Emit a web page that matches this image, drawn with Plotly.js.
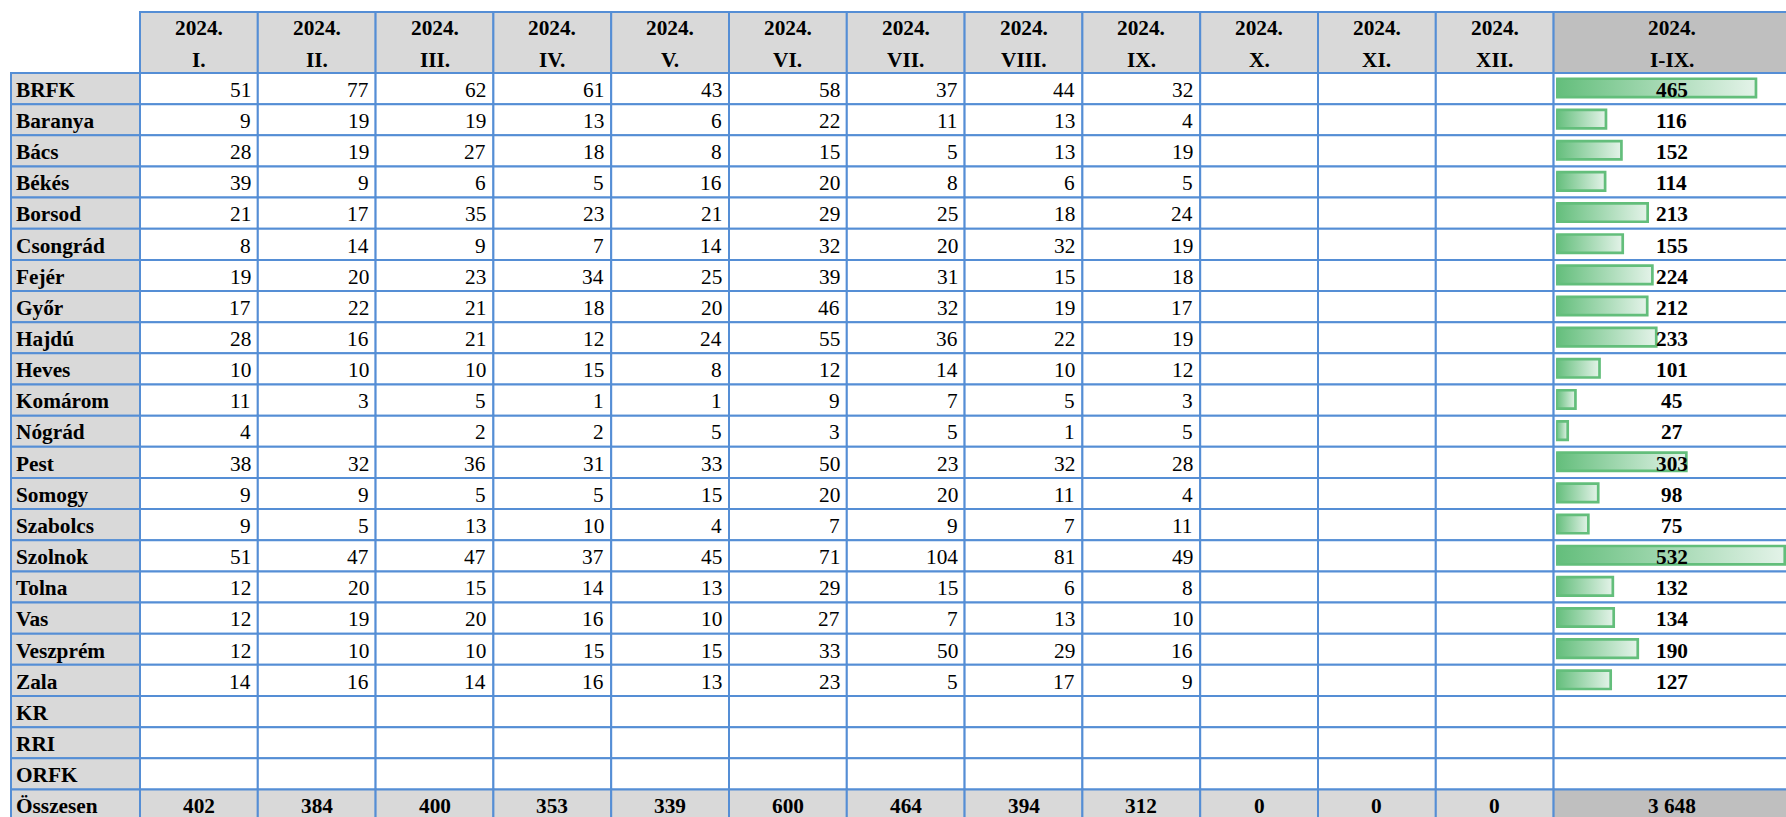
<!DOCTYPE html>
<html><head><meta charset="utf-8">
<script src="https://cdn.plot.ly/plotly-3.0.1.min.js"></script>
<style>html,body{margin:0;padding:0;background:#fff;overflow:hidden}</style>
</head><body><div id="chart" style="width:1786px;height:817px"></div>
<script>
// ---- data ----
const yearLabel = '2024.';
const monthLabels = ['I.','II.','III.','IV.','V.','VI.','VII.','VIII.','IX.','X.','XI.','XII.'];
const totalLabel = 'I-IX.';
const regions = ['BRFK','Baranya','Bács','Békés','Borsod','Csongrád','Fejér','Győr','Hajdú','Heves','Komárom','Nógrád','Pest','Somogy','Szabolcs','Szolnok','Tolna','Vas','Veszprém','Zala','KR','RRI','ORFK'];
const sumLabel = 'Összesen';
const monthI    = [51, 9,28,39,21, 8,19,17,28,10,11, 4,38, 9, 9, 51,12,12,12,14,null,null,null];
const monthII   = [77,19,19, 9,17,14,20,22,16,10, 3,null,32, 9, 5, 47,20,19,10,16,null,null,null];
const monthIII  = [62,19,27, 6,35, 9,23,21,21,10, 5, 2,36, 5,13, 47,15,20,10,14,null,null,null];
const monthIV   = [61,13,18, 5,23, 7,34,18,12,15, 1, 2,31, 5,10, 37,14,16,15,16,null,null,null];
const monthV    = [43, 6, 8,16,21,14,25,20,24, 8, 1, 5,33,15, 4, 45,13,10,15,13,null,null,null];
const monthVI   = [58,22,15,20,29,32,39,46,55,12, 9, 3,50,20, 7, 71,29,27,33,23,null,null,null];
const monthVII  = [37,11, 5, 8,25,20,31,32,36,14, 7, 5,23,20, 9,104,15, 7,50, 5,null,null,null];
const monthVIII = [44,13,13, 6,18,32,15,19,22,10, 5, 1,32,11, 7, 81, 6,13,29,17,null,null,null];
const monthIX   = [32, 4,19, 5,24,19,18,17,19,12, 3, 5,28, 4,11, 49, 8,10,16, 9,null,null,null];
const monthX    = [null,null,null,null,null,null,null,null,null,null,null,null,null,null,null,null,null,null,null,null,null,null,null];
const monthXI   = [null,null,null,null,null,null,null,null,null,null,null,null,null,null,null,null,null,null,null,null,null,null,null];
const monthXII  = [null,null,null,null,null,null,null,null,null,null,null,null,null,null,null,null,null,null,null,null,null,null,null];
const regionTotals = [465,116,152,114,213,155,224,212,233,101,45,27,303,98,75,532,132,134,190,127,null,null,null];
const monthTotals = [402,384,400,353,339,600,464,394,312,0,0,0];
const grandTotal = 3648;

// ---- style / geometry ----
const months = [monthI,monthII,monthIII,monthIV,monthV,monthVI,monthVII,monthVIII,monthIX,monthX,monthXI,monthXII];
const BLUE = '#558ED5', GRAY = '#D9D9D9', DGRAY = '#BFBFBF', GREEN = '#63BE7B', BARLIGHT = '#E4F3E9';
const FONT = 'Liberation Serif', FS = 21.3;
const W = 1786, H = 817;
const padL = 11, padT = 12, headH = 61, rowH = 31.15;
const labelW = 129, monthW = 117.8, totalW = 236;
const nBody = regions.length + 1;              // incl. Összesen
const bodyTop = padT + headH;

// column edges (pixel units on the grid axes)
const colLeft = [padL];
const colWidths = [labelW].concat(Array(12).fill(monthW)).concat([totalW]);
colWidths.forEach((w, i) => colLeft.push(colLeft[i] + w));
const rowTop = i => bodyTop + i * rowH;

const fmt = v => (v === null || v === undefined) ? '' : String(v).replace(/\B(?=(\d{3})+(?!\d))/g, ' ');

const shapes = [];
const annotations = [];
const cellRect = (x0, x1, y0, y1, fill) => shapes.push({
  type: 'rect', xref: 'x', yref: 'y', x0, x1, y0, y1, layer: 'below',
  fillcolor: fill, line: {color: BLUE, width: 2}
});
const txt = (x, y, text, anchor, bold, xshift) => annotations.push({
  xref: 'x', yref: 'y', x, y, text, showarrow: false, xanchor: anchor, yanchor: 'middle',
  xshift: xshift || 0, borderpad: 0,
  font: {family: FONT, size: FS, color: '#000', weight: bold ? 700 : 400}
});

// header
const headerLabels = monthLabels.concat([totalLabel]);
headerLabels.forEach((lab, j) => {
  const c = j + 1;
  cellRect(colLeft[c], colLeft[c + 1], padT, bodyTop, c === 13 ? DGRAY : GRAY);
  const cx = (colLeft[c] + colLeft[c + 1]) / 2;
  txt(cx, padT + 16, yearLabel, 'center', true);
  txt(cx, padT + 48, lab, 'center', true);
});

// body
const labels = regions.concat([sumLabel]);
for (let i = 0; i < nBody; i++) {
  const y0 = rowTop(i), y1 = rowTop(i + 1), yc = y0 + 16.8;
  const isSum = i === nBody - 1;
  cellRect(colLeft[0], colLeft[1], y0, y1, GRAY);
  txt(colLeft[0], yc, labels[i], 'left', true, 4);
  months.forEach((col, j) => {
    const c = j + 1;
    cellRect(colLeft[c], colLeft[c + 1], y0, y1, isSum ? GRAY : 'white');
    if (isSum) txt((colLeft[c] + colLeft[c + 1]) / 2, yc, fmt(monthTotals[j]), 'center', true);
    else if (col[i] !== null) txt(colLeft[c + 1], yc, fmt(col[i]), 'right', false, -6);
  });
  cellRect(colLeft[13], colLeft[14], y0, y1, isSum ? DGRAY : 'white');
  const tv = isSum ? grandTotal : regionTotals[i];
  if (tv !== null) txt((colLeft[13] + colLeft[14]) / 2, yc, fmt(tv), 'center', true);
}

// data bars for the I-IX column (own axes: value scale x2, row index y2)
const traces = [];
const barHalf = 0.295, barMid = 0.48;
regionTotals.forEach((v, i) => {
  if (v === null) return;
  const yc = i + barMid;
  traces.push({
    type: 'scatter', mode: 'lines', xaxis: 'x2', yaxis: 'y2',
    x: [0, v, v, 0, 0], y: [yc - barHalf, yc - barHalf, yc + barHalf, yc + barHalf, yc - barHalf],
    fill: 'toself',
    fillgradient: {type: 'horizontal', colorscale: [[0, GREEN], [1, BARLIGHT]]},
    line: {color: GREEN, width: 2.7},
    hoverinfo: 'skip', showlegend: false
  });
});

const barStart = colLeft[13] + 2.5;
const barScale = 0.4298;                        // px per unit
const layout = {
  width: W, height: H, margin: {l: 0, r: 0, t: 0, b: 0},
  paper_bgcolor: 'white', plot_bgcolor: 'rgba(0,0,0,0)', showlegend: false,
  xaxis: {domain: [0, 1], range: [0, W], visible: false, fixedrange: true},
  yaxis: {domain: [0, 1], range: [H, 0], visible: false, fixedrange: true},
  xaxis2: {domain: [barStart / W, 1], range: [0, (W - barStart) / barScale], visible: false, fixedrange: true, anchor: 'y2'},
  yaxis2: {domain: [0, (H - bodyTop) / H], range: [(H - bodyTop) / rowH, 0], visible: false, fixedrange: true, anchor: 'x2'},
  shapes, annotations
};
Plotly.newPlot('chart', traces, layout, {displayModeBar: false, staticPlot: true});
</script></body></html>
